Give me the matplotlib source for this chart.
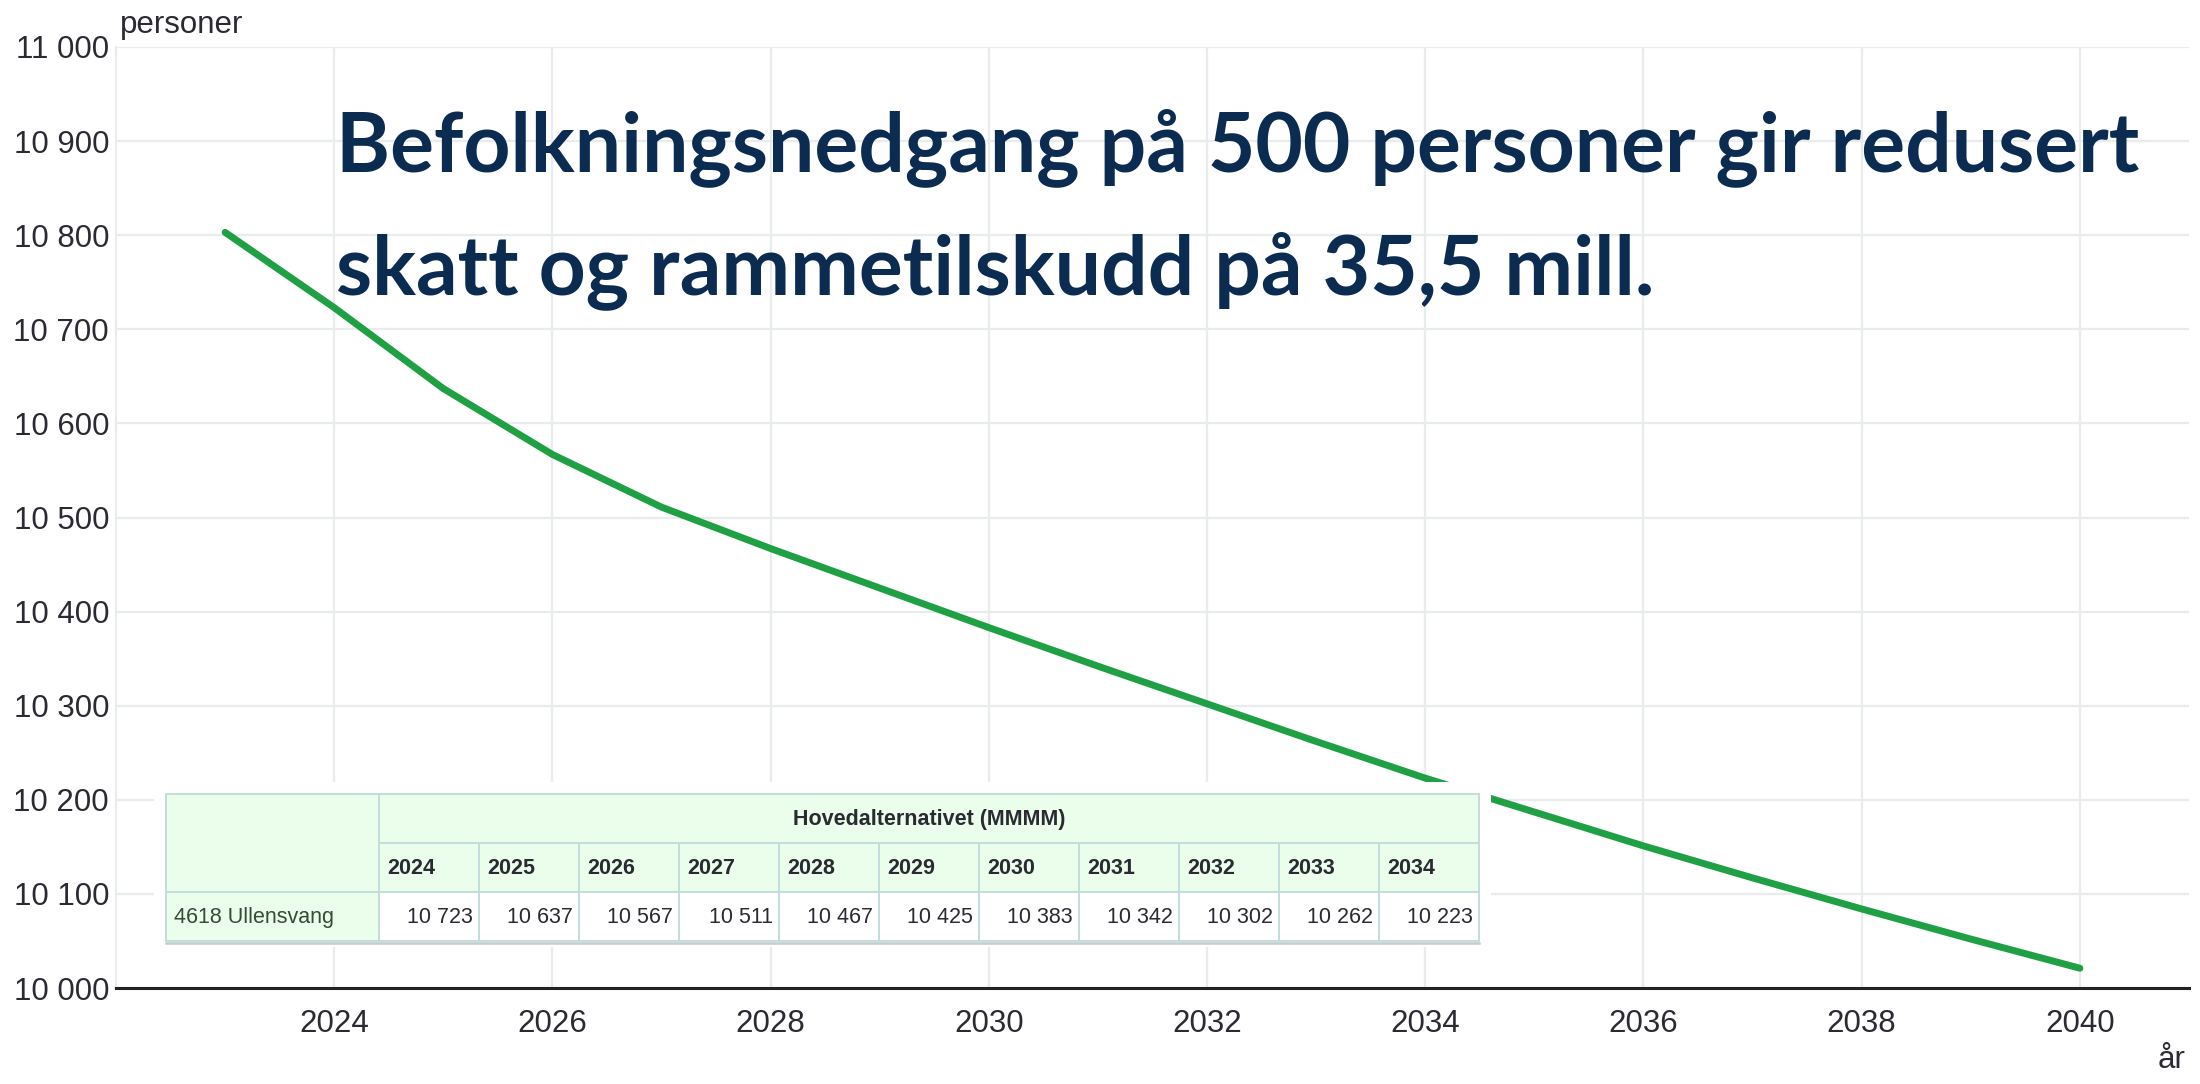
import matplotlib
matplotlib.use("Agg")
import matplotlib.pyplot as plt
from matplotlib.patches import Rectangle
from matplotlib.ticker import FuncFormatter, MultipleLocator

# ---- data ----
years = [2023, 2024, 2025, 2026, 2027, 2028, 2029, 2030, 2031, 2032,
         2033, 2034, 2035, 2036, 2037, 2038, 2039, 2040]
population = [10803, 10723, 10637, 10567, 10511, 10467, 10425, 10383, 10342,
              10302, 10262, 10223, 10187, 10151, 10117, 10084, 10052, 10021]

table_years = [2024, 2025, 2026, 2027, 2028, 2029, 2030, 2031, 2032, 2033, 2034]
table_values = [10723, 10637, 10567, 10511, 10467, 10425, 10383, 10342, 10302, 10262, 10223]
table_header = "Hovedalternativet (MMMM)"
table_row_label = "4618 Ullensvang"

title_lines = ["Befolkningsnedgang på 500 personer gir redusert",
               "skatt og rammetilskudd på 35,5 mill."]
y_label = "personer"
x_label = "år"

W, H = 2200, 1084
fig = plt.figure(figsize=(W / 100, H / 100), dpi=100)
fig.patch.set_facecolor("white")

tick_font = ["Liberation Sans", "DejaVu Sans"]
text_col = "#2a2a32"
grid_col = "#e8ecec"

ax = fig.add_axes([116 / W, 1 - 988 / H, (2189 - 116) / W, (988 - 47) / H])
ax.plot(years, population, color="#1fa045", lw=5, solid_capstyle="round", zorder=3)
ax.set_xlim(2022, 2041)
ax.set_ylim(10000, 11000)
ax.yaxis.set_major_locator(MultipleLocator(100))
ax.yaxis.set_major_formatter(FuncFormatter(lambda v, p: f"{int(v):,}".replace(",", " ")))
ax.grid(True, color=grid_col, lw=1.6, zorder=0)
ax.set_xticks([y for y in range(2024, 2041, 2)])
for s in ["top", "right"]:
    ax.spines[s].set_visible(False)
ax.spines["left"].set_color(grid_col)
ax.spines["left"].set_linewidth(1.6)
ax.spines["bottom"].set_color("#222222")
ax.spines["bottom"].set_linewidth(2.2)
ax.tick_params(axis="both", length=0, labelsize=22.5, colors=text_col)
ax.tick_params(axis="x", pad=15)
ax.tick_params(axis="y", pad=5)
for lab in ax.get_xticklabels() + ax.get_yticklabels():
    lab.set_family(tick_font)

fig.text(120 / W, 1 - 25 / H, y_label, fontsize=22.5, color=text_col, family=tick_font,
         ha="left", va="center")
fig.text(2172 / W, 1 - 1060 / H, x_label, fontsize=22.5, color=text_col, family=tick_font,
         ha="center", va="center")

# ---- title ----
title_font = ["Lato", "Open Sans", "DejaVu Sans"]
t1 = fig.text(336 / W, 1 - 171 / H, title_lines[0], fontsize=62, fontweight="bold",
              color="#0b2b50", family=title_font, ha="left", va="baseline")
t2 = fig.text(336 / W, 1 - 294 / H, title_lines[1], fontsize=62, fontweight="bold",
              color="#0b2b50", family=title_font, ha="left", va="baseline")
# fit first line to the reference width (~1803 px)
fig.canvas.draw()
r = fig.canvas.get_renderer()
w1 = t1.get_window_extent(r).width
fs = 62 * 1803 / w1
t1.set_fontsize(fs)
t2.set_fontsize(fs)

# ---- table ----
tx0, tx1, ty0, ty1 = 166, 1479, 794, 941
fig.patches.append(Rectangle(((tx0 - 12) / W, 1 - (ty1 + 6) / H), (tx1 - tx0 + 24) / W,
                             (ty1 - ty0 + 18) / H, transform=fig.transFigure,
                             facecolor="white", edgecolor="none", zorder=5))
tax = fig.add_axes([tx0 / W, 1 - ty1 / H, (tx1 - tx0) / W, (ty1 - ty0) / H], zorder=6)
tax.set_xlim(0, tx1 - tx0)
tax.set_ylim(ty1 - ty0, 0)
tax.axis("off")
green = "#ebfdeb"
border = "#c3dcdc"
first_w = 213
col_w = 100
row_h = 49
cell_font = ["Liberation Sans Narrow", "Liberation Sans", "DejaVu Sans"]
cfs = 15.5

def cell(x, y, w, h, fc):
    tax.add_patch(Rectangle((x, y), w, h, facecolor=fc, edgecolor=border, lw=1.4,
                            clip_on=False))

cell(0, 0, first_w, 2 * row_h, green)
cell(first_w, 0, col_w * len(table_years), row_h, green)
tax.text(first_w + col_w * len(table_years) / 2, row_h / 2 + 1, table_header,
         ha="center", va="center", fontsize=cfs, fontweight="bold", color=text_col,
         family=cell_font)
for i, yr in enumerate(table_years):
    x = first_w + i * col_w
    cell(x, row_h, col_w, row_h, green)
    tax.text(x + 8, row_h * 1.5 + 1, str(yr), ha="left", va="center", fontsize=cfs,
             fontweight="bold", color=text_col, family=cell_font)
    cell(x, 2 * row_h, col_w, row_h, "white")
    tax.text(x + col_w - 6, row_h * 2.5 + 1, f"{table_values[i]:,}".replace(",", " "),
             ha="right", va="center", fontsize=cfs, color=text_col, family=cell_font)
cell(0, 2 * row_h, first_w, row_h, green)
tax.text(8, row_h * 2.5 + 1, table_row_label, ha="left", va="center", fontsize=cfs,
         color="#3a4a3a", family=cell_font)
tax.plot([0, tx1 - tx0], [row_h * 3 + 1.5, row_h * 3 + 1.5], color="#c4cccc", lw=1.8,
         clip_on=False)

fig.savefig("out.png", dpi=100, facecolor="white")
